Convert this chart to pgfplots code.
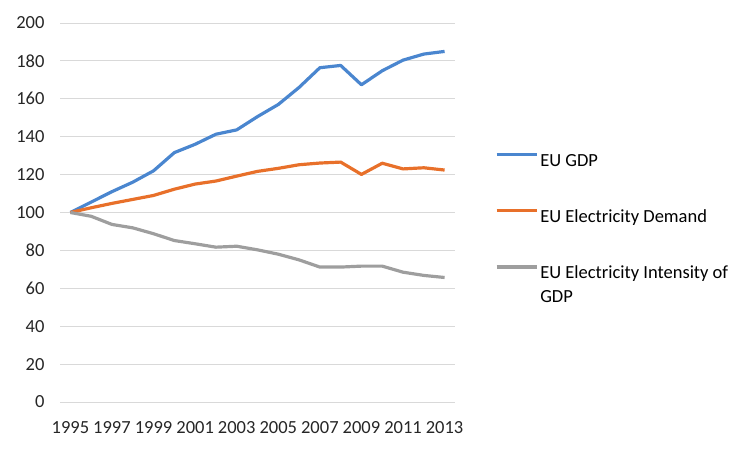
\documentclass[border=0pt]{standalone}
\usepackage{pgfplots}
\pgfplotsset{compat=1.18}
\usepackage{fontspec}
\setmainfont{Carlito}

\definecolor{gdpblue}{HTML}{4A86CF}
\definecolor{demorange}{HTML}{E8702A}
\definecolor{intgray}{HTML}{9E9E9E}
\definecolor{gridgray}{HTML}{D9D9D9}

\begin{document}
\begin{tikzpicture}
\useasboundingbox (-60bp,-50bp) rectangle (692bp,402bp);
\begin{axis}[
    scale only axis,
    width=395bp, height=379bp,
    xmin=1994.5, xmax=2013.5,
    ymin=0, ymax=200,
    xtick={1995,1997,...,2013},
    ytick={0,20,...,200},
    xticklabel style={/pgf/number format/1000 sep={}},
    /pgf/number format/assume math mode=true,
    axis line style={draw=none},
    major tick length=0pt,
    ymajorgrids=true,
    grid style={gridgray, line width=0.8pt},
    tick label style={font=\fontsize{18.5bp}{22bp}\selectfont, text=black!85},
    yticklabel style={xshift=-12bp},
    xticklabel style={yshift=-16bp},
    line join=round,
    legend style={
        at={(axis description cs:1.101,0.66)}, anchor=north west,
        draw=none, fill=none,
        font=\fontsize{18.5bp}{24bp}\selectfont,
        row sep=38bp,
        inner sep=0pt,
        cells={anchor=base west},
    },
    legend cell align=left,
    legend image code/.code={\draw[#1] (0bp,6bp) -- (40bp,6bp);},
]

\addplot[gdpblue, line width=3.2pt] coordinates {
    (1995,100) (1996,105.5) (1997,111) (1998,116) (1999,122)
    (2000,131.6) (2001,136) (2002,141.3) (2003,143.6) (2004,150.6)
    (2005,157) (2006,166) (2007,176.4) (2008,177.6) (2009,167.4)
    (2010,174.8) (2011,180.4) (2012,183.6) (2013,185)
};
\addlegendentry{EU GDP}

\addplot[demorange, line width=3.2pt] coordinates {
    (1995,100) (1996,102.5) (1997,104.8) (1998,106.9) (1999,109)
    (2000,112.3) (2001,115) (2002,116.6) (2003,119.2) (2004,121.7)
    (2005,123.3) (2006,125.2) (2007,126.1) (2008,126.6) (2009,120.1)
    (2010,126) (2011,123) (2012,123.6) (2013,122.4)
};
\addlegendentry{EU Electricity Demand}

\addplot[intgray, line width=3.2pt] coordinates {
    (1995,100) (1996,98) (1997,93.7) (1998,91.9) (1999,88.8)
    (2000,85.2) (2001,83.5) (2002,81.7) (2003,82.2) (2004,80.3)
    (2005,78) (2006,75) (2007,71.2) (2008,71.2) (2009,71.7)
    (2010,71.7) (2011,68.5) (2012,66.8) (2013,65.7)
};
\addlegendentry{\vtop{\baselineskip=24bp\hbox{EU Electricity Intensity of}\hbox{GDP}}}

\end{axis}
\end{tikzpicture}
\end{document}
